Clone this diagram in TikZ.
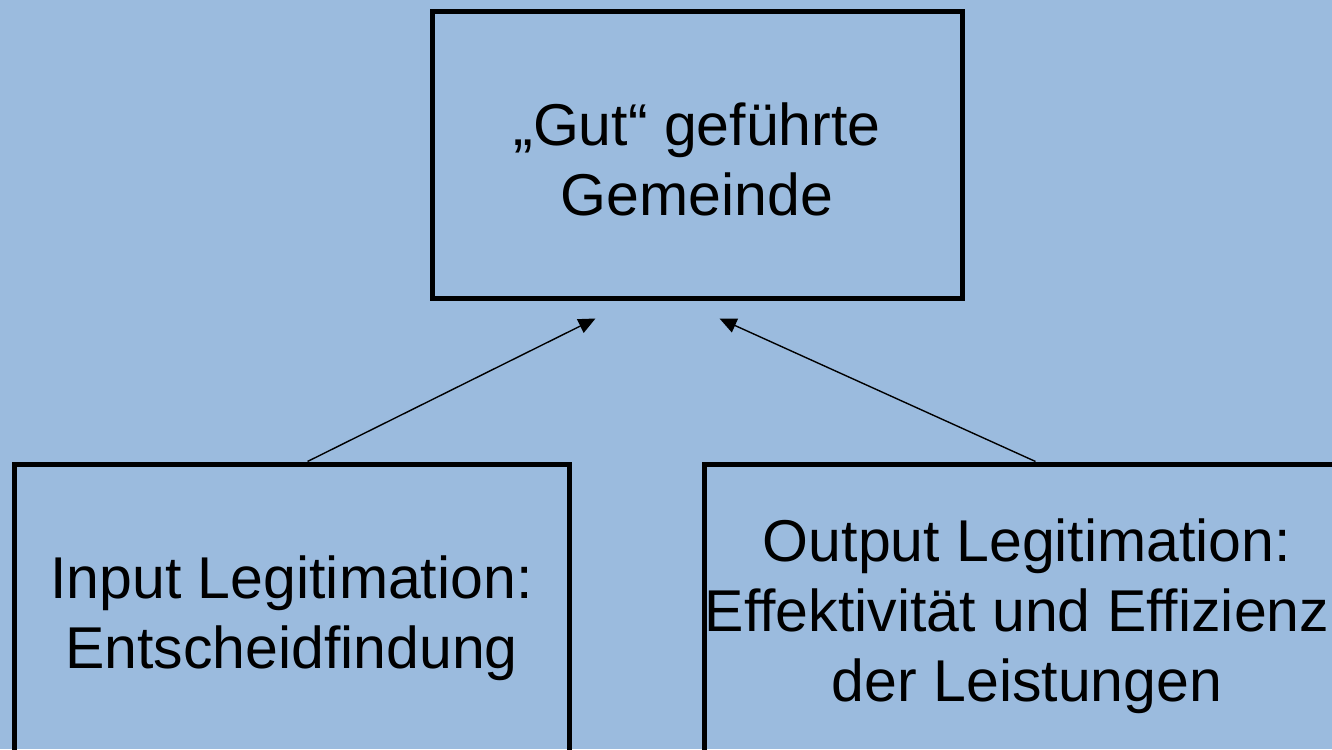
\documentclass[tikz,border=0pt]{standalone}
\usepackage{fontspec}
\setmainfont{Liberation Sans}
\usetikzlibrary{arrows.meta,calc}
\definecolor{slidebg}{RGB}{155,187,222}
\tikzset{
  box/.style={draw=black, line width=5pt, fill=none, align=center,
    inner sep=0pt, font=\fontsize{59}{70}\selectfont},
  link/.style={draw=black, line width=1.4pt,
    -{Triangle[length=17pt,width=15pt]}},
  label text/.style={align=center, inner sep=0pt,
    font=\fontsize{59}{70}\selectfont}
}
\begin{document}
\begin{tikzpicture}[x=1pt,y=-1pt]
  \fill[slidebg] (0,0) rectangle (1332,749);
  \useasboundingbox (0,0) rectangle (1332,749);
  \clip (0,0) rectangle (1332,749);

  % goal box
  \node[box, minimum width=530pt, minimum height=286pt] (goal) at (697,155) {};
  \node[label text] (goaltext) at (697,159) {„Gut“ geführte\\Gemeinde};

  % the two sources of legitimacy
  \node[box, minimum width=555pt, minimum height=298pt] (input) at (291.5,613) {};
  \node[label text] (inputtext) at (291.5,618) {Input Legitimation:\\Entscheidfindung};
  \node[box, minimum width=646pt, minimum height=296pt] (output) at (1027,612) {};
  \node[label text] (outputtext) at (1027,616)
    {Output Legitimation:\\Effektivität und Effizienz\rule{20pt}{0pt}\\der Leistungen};

  % attachment points of the arrows
  \coordinate (inTop)  at ($(input.north west)+(296,0)$);
  \coordinate (outTop) at ($(output.north west)+(334,0)$);
  \coordinate (goalL)  at ($(goal.south west)+(166,18)$);
  \coordinate (goalR)  at ($(goal.south west)+(290,18)$);

  \draw[link] (inTop) -- (goalL);
  \draw[link] (outTop) -- (goalR);
\end{tikzpicture}
\end{document}
